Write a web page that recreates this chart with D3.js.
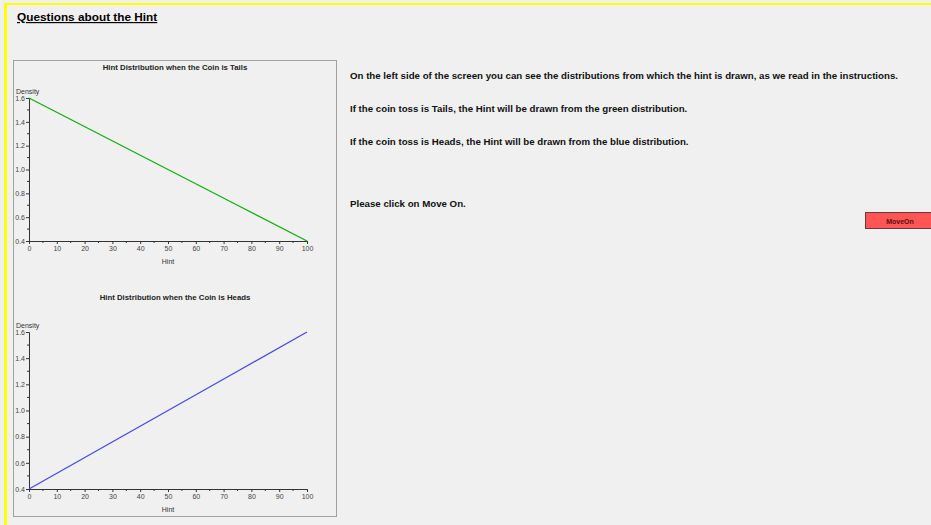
<!DOCTYPE html>
<html>
<head>
<meta charset="utf-8">
<script src="https://cdn.jsdelivr.net/npm/d3@7"></script>
<style>
  html, body { margin: 0; padding: 0; background: #f0f0f0; }
  svg { display: block; font-family: "Liberation Sans", Arial, sans-serif; }
</style>
</head>
<body>
<svg width="931" height="525"></svg>
<script>
var hint = [0, 25, 50, 75, 100];
var tailsDensity = [1.6, 1.3, 1.0, 0.7, 0.4];
var headsDensity = [0.4, 0.7, 1.0, 1.3, 1.6];
var xTicks = [0, 10, 20, 30, 40, 50, 60, 70, 80, 90, 100];
var yTicks = [0.4, 0.6, 0.8, 1.0, 1.2, 1.4, 1.6];
var messages = [
  "On the left side of the screen you can see the distributions from which the hint is drawn, as we read in the instructions.",
  "If the coin toss is Tails, the Hint will be drawn from the green distribution.",
  "If the coin toss is Heads, the Hint will be drawn from the blue distribution.",
  "Please click on Move On."
];
var msgY = [75, 108, 141, 203];

var svg = d3.select("svg");

// yellow frame (top + left only)
svg.append("rect").attr("x", 4).attr("y", 3).attr("width", 927).attr("height", 2).attr("fill", "#ffff00");
svg.append("rect").attr("x", 4).attr("y", 3).attr("width", 3).attr("height", 522).attr("fill", "#ffff00");

svg.append("text").attr("x", 17).attr("y", 21)
  .attr("font-size", 11.8).attr("font-weight", "bold").attr("fill", "#000")
  .attr("text-decoration", "underline")
  .text("Questions about the Hint");

// chart panel
svg.append("rect").attr("x", 13.5).attr("y", 60.5).attr("width", 323).attr("height", 456)
  .attr("fill", "#f0f0f0").attr("stroke", "#a0a0a0");

function drawChart(top, bottom, titleGap, title, values, color) {
  var g = svg.append("g");
  var x = d3.scaleLinear().domain([0, 100]).range([29, 307]);
  var y = d3.scaleLinear().domain([0.4, 1.6]).range([bottom, top]);

  g.append("text").attr("x", 175).attr("y", top - titleGap).attr("text-anchor", "middle")
    .attr("font-size", 7.8).attr("font-weight", "bold").attr("fill", "#222").text(title);
  g.append("text").attr("x", 16).attr("y", top - 4)
    .attr("font-size", 7).attr("fill", "#333").text("Density");

  var xa = g.append("g").attr("transform", "translate(0," + y(0.4) + ")")
    .call(d3.axisBottom(x).tickValues(xTicks).tickFormat(d3.format("d")).tickSize(3).tickPadding(2));
  xa.append("g").selectAll("line").data(d3.range(5, 100, 10)).enter().append("line")
    .attr("x1", function(d) { return x(d); }).attr("x2", function(d) { return x(d); })
    .attr("y1", 0).attr("y2", 2).attr("stroke", "#333");

  var ya = g.append("g").attr("transform", "translate(" + x(0) + ",0)")
    .call(d3.axisLeft(y).tickValues(yTicks).tickFormat(d3.format(".1f")).tickSize(3).tickPadding(1));
  ya.append("g").selectAll("line").data(d3.range(0.5, 1.6, 0.2)).enter().append("line")
    .attr("y1", function(d) { return y(d); }).attr("y2", function(d) { return y(d); })
    .attr("x1", 0).attr("x2", -2).attr("stroke", "#333");

  [xa, ya].forEach(function(a) {
    a.select(".domain").attr("stroke", "#333");
    a.selectAll(".tick line").attr("stroke", "#333");
    a.selectAll("text").attr("font-size", 7).attr("fill", "#444")
      .attr("font-family", "Liberation Sans, Arial, sans-serif");
  });

  g.append("text").attr("x", 168).attr("y", bottom + 23).attr("text-anchor", "middle")
    .attr("font-size", 7).attr("fill", "#333").text("Hint");

  var line = d3.line()
    .x(function(d, i) { return x(hint[i]); })
    .y(function(d) { return y(d); });
  g.append("path").datum(values).attr("d", line)
    .attr("fill", "none").attr("stroke", color).attr("stroke-width", 1.3);
}

drawChart(98, 241, 28, "Hint Distribution when the Coin is Tails", tailsDensity, "#10b010");
drawChart(332, 489, 32, "Hint Distribution when the Coin is Heads", headsDensity, "#4848e8");

svg.append("g").selectAll("text").data(messages).enter().append("text")
  .attr("x", 350).attr("y", function(d, i) { return msgY[i] + 4; })
  .attr("font-size", 9.7).attr("font-weight", "bold").attr("fill", "#111")
  .text(function(d) { return d; });

// button
svg.append("rect").attr("x", 865.5).attr("y", 212.5).attr("width", 70).attr("height", 16)
  .attr("fill", "#ff5555").attr("stroke", "#6a3a3a");
svg.append("text").attr("x", 900).attr("y", 223.5).attr("text-anchor", "middle")
  .attr("font-size", 7).attr("font-weight", "bold").attr("fill", "#5a1010").text("MoveOn");
</script>
</body>
</html>
